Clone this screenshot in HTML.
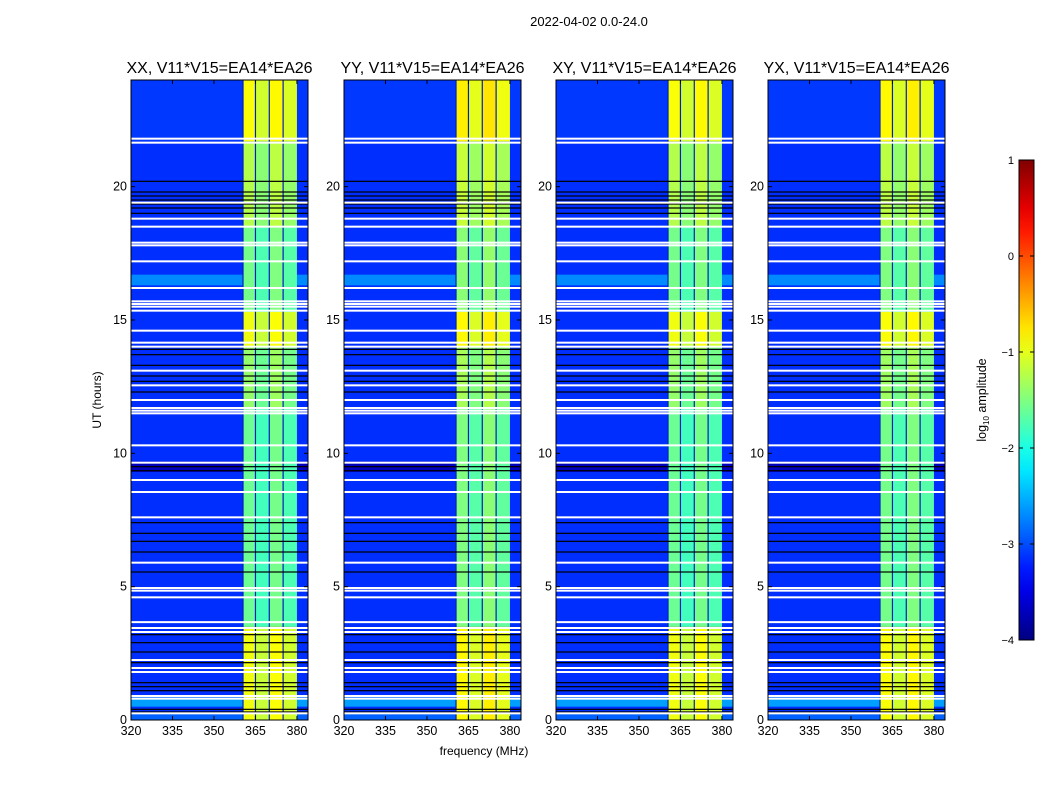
<!DOCTYPE html>
<html><head><meta charset="utf-8"><style>
body{margin:0;background:#fff;}
svg{display:block;font-family:"Liberation Sans",sans-serif;}
</style></head><body>
<svg id="fig" width="1050" height="800" xmlns="http://www.w3.org/2000/svg">
<rect width="1050" height="800" fill="#fff"/>
<text x="589" y="26" font-size="13" text-anchor="middle">2022-04-02 0.0-24.0</text>
<text x="484" y="755" font-size="12" text-anchor="middle">frequency (MHz)</text>
<text transform="translate(101,400) rotate(-90)" font-size="12" text-anchor="middle">UT (hours)</text>
<g id="panels"></g>
<g id="cbar"></g>
</svg>
<script>
// ---- data ----
const panelTitles = ["XX, V11*V15=EA14*EA26","YY, V11*V15=EA14*EA26","XY, V11*V15=EA14*EA26","YX, V11*V15=EA14*EA26"];
const panelBandOffset = [0, 0.1, 0, 0.05];
const xTicks = [320,335,350,365,380];
const yTicks = [0,5,10,15,20];
const cbTicks = [1,0,-1,-2,-3,-4];
const bgLevel = -3.15;
// background segments [startHour, endHour, log amplitude]
const bgSegs = [[0.5,0.85,-2.6],[9.3,9.7,-3.7],[16.3,16.7,-2.7],[21.7,24,-3.1],[0,0.3,-2.9]];
// band columns [fStart, fEnd, offset]
const bandCols = [[360.5,365,0.05],[365,370,-0.15],[370,375,0.1],[375,380,-0.1]];
// band levels by time [startHour, endHour, log amplitude]
const bandSegs = [[0,3.5,-1.0],[3.5,11.7,-1.65],[11.7,14.0,-1.45],[14.0,15.3,-1.0],[15.3,18.5,-1.6],[18.5,21.7,-1.3],[21.7,24,-0.95]];
const bandDividers = [360.5,365,370,375];
// flagged rows
const blackRows = [0.3,0.4,1.1,1.25,1.4,2.15,2.55,2.9,3.2,5.55,6.3,6.7,7.0,7.4,9.35,9.5,12.3,12.7,12.9,13.3,13.7,13.9,19.0,19.2,19.35,19.5,19.65,19.8,20.2];
const whiteRows = [0.25,0.8,0.9,1.8,1.95,2.25,3.3,3.45,3.67,4.6,4.85,4.95,5.9,7.6,8.55,9.0,9.65,10.3,11.5,11.6,11.7,12.0,12.55,13.1,14.0,14.15,14.6,15.35,15.5,15.6,15.7,16.2,17.2,17.8,17.9,18.5,18.8,19.4,21.65,21.8];

// ---- geometry ----
const panelX = [131,344,556,768], pw = 177, py0 = 80, py1 = 720;
const fMin = 320, fMax = 384;
const NS = "http://www.w3.org/2000/svg";
function jet(t){t=Math.max(0,Math.min(1,t));
  const r=Math.max(0,Math.min(1,1.5-Math.abs(4*t-3))),g=Math.max(0,Math.min(1,1.5-Math.abs(4*t-2))),b=Math.max(0,Math.min(1,1.5-Math.abs(4*t-1)));
  return `rgb(${Math.round(r*255)},${Math.round(g*255)},${Math.round(b*255)})`;}
function col(v){return jet((v+4)/5);}
function mk(tag,attrs,parent){const e=document.createElementNS(NS,tag);for(const k in attrs)e.setAttribute(k,attrs[k]);parent.appendChild(e);return e;}
const Y = h => py1 - (h/24)*(py1-py0);
const root = document.getElementById('panels');
panelX.forEach((x0,pi)=>{
  const X = f => x0 + (f-fMin)/(fMax-fMin)*pw;
  const g = mk('g',{},root);
  
  
  let r = mk('rect',{x:x0,y:py0,width:pw,height:py1-py0,fill:col(bgLevel)},g);
  
  
  bgSegs.forEach(s=>{
    const e=mk('rect',{x:x0,y:Y(s[1]),width:pw,height:Y(s[0])-Y(s[1]),fill:col(s[2])},g);
    
    
  });
  bandSegs.forEach(s=>{bandCols.forEach(c=>{
    const e=mk('rect',{x:X(c[0]),y:Y(s[1]),width:X(c[1])-X(c[0]),height:Y(s[0])-Y(s[1]),fill:col(s[2]+c[2]+panelBandOffset[pi])},g);
    
    
  });});
  bandDividers.forEach(f=>{
    const e=mk('rect',{x:X(f)-0.6,y:py0,width:1.2,height:py1-py0,fill:'#0020c0'},g);
    
    
  });
  blackRows.forEach(h=>{
    const e=mk('rect',{x:x0,y:Y(h)-0.6,width:pw,height:1.2,fill:'#000'},g);
    
    
  });
  whiteRows.forEach(h=>{
    const e=mk('rect',{x:x0,y:Y(h)-1,width:pw,height:2,fill:'#fff'},g);
    
    
  });
  const fr=mk('rect',{x:x0,y:py0,width:pw,height:py1-py0,fill:'none',stroke:'#000','stroke-width':1},g);
  
  
  const t=mk('text',{x:x0+pw/2,y:73,'font-size':16,'text-anchor':'middle'},g);t.textContent=panelTitles[pi];
  
  
  xTicks.forEach(f=>{
    mk('line',{x1:X(f),x2:X(f),y1:py1,y2:py1-4,stroke:'#000'},g);
    mk('line',{x1:X(f),x2:X(f),y1:py0,y2:py0+4,stroke:'#000'},g);
    const l=mk('text',{x:X(f),y:py1+15,'font-size':12.5,'text-anchor':'middle'},g);l.textContent=f;
    
    
  });
  yTicks.forEach(h=>{
    mk('line',{x1:x0,x2:x0+4,y1:Y(h),y2:Y(h),stroke:'#000'},g);
    mk('line',{x1:x0+pw,x2:x0+pw-4,y1:Y(h),y2:Y(h),stroke:'#000'},g);
    const l=mk('text',{x:x0-4,y:Y(h)+4,'font-size':12.5,'text-anchor':'end'},g);l.textContent=h;
    
    
  });
});
// colorbar
const cb=document.getElementById('cbar');
const cbx=1019,cbw=15,cby0=160,cby1=640;
const defs=mk('defs',{},cb);
const lg=mk('linearGradient',{id:'jetg',x1:0,y1:1,x2:0,y2:0},defs);
for(let i=0;i<=20;i++)mk('stop',{offset:i/20,'stop-color':jet(i/20)},lg);
const cr=mk('rect',{x:cbx,y:cby0,width:cbw,height:cby1-cby0,fill:'url(#jetg)',stroke:'#000'},cb);


const CY=v=>cby1-(v+4)/5*(cby1-cby0);
cbTicks.forEach(v=>{
  mk('line',{x1:cbx,x2:cbx+4,y1:CY(v),y2:CY(v),stroke:'#000'},cb);
  mk('line',{x1:cbx+cbw,x2:cbx+cbw-4,y1:CY(v),y2:CY(v),stroke:'#000'},cb);
  const l=mk('text',{x:cbx-5,y:CY(v)+4,'font-size':11,'text-anchor':'end'},cb);l.textContent=(v<0?'\u2212'+(-v):v);
  
  
});
const cl=mk('text',{transform:'translate(986,400) rotate(-90)','font-size':12.5,'text-anchor':'middle'},cb);
cl.innerHTML='log<tspan font-size="8" dy="3">10</tspan><tspan dy="-3"> amplitude</tspan>';


</script>
</body></html>
